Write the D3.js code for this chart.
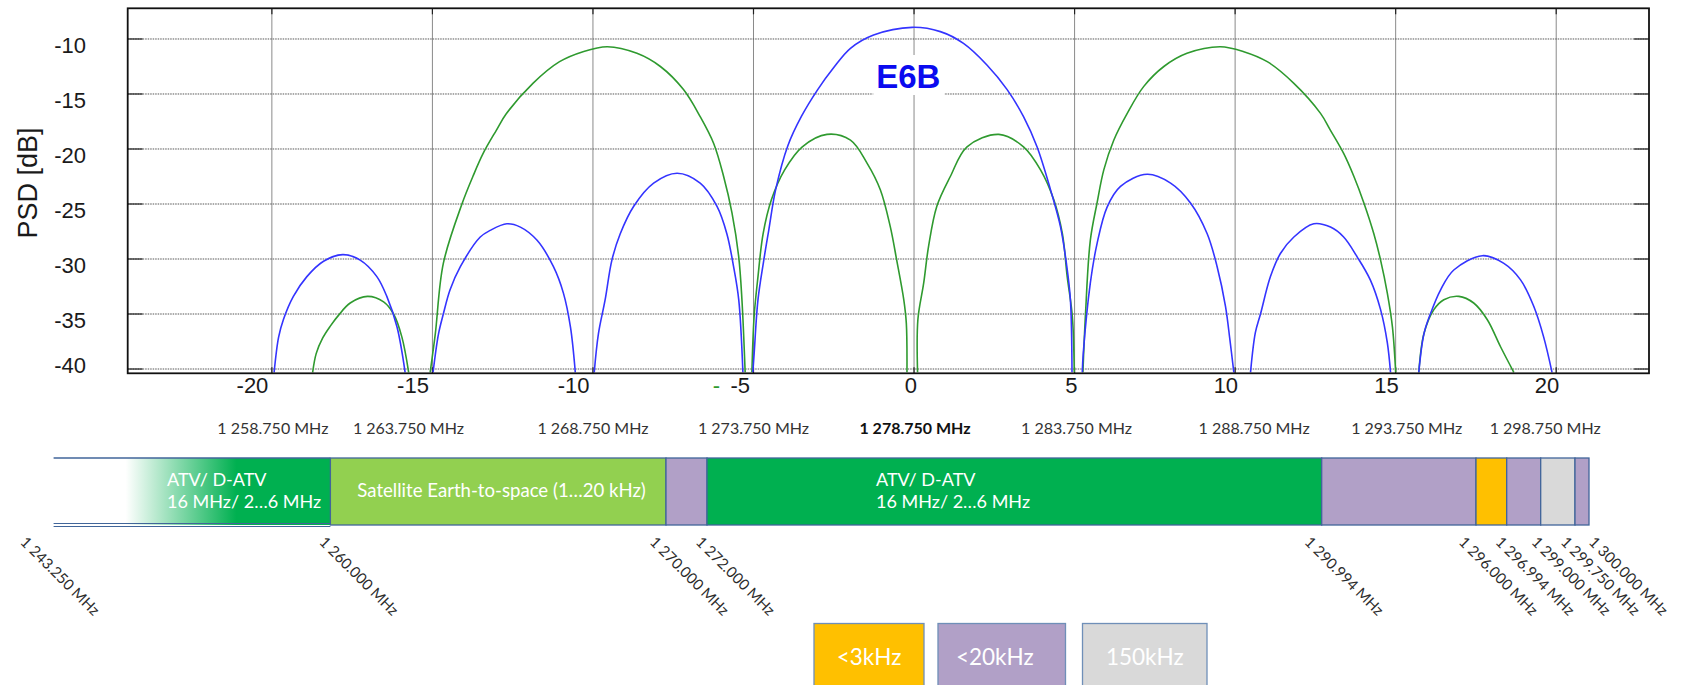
<!DOCTYPE html>
<html lang="en">
<head>
<meta charset="UTF-8">
<title>E6B PSD and band plan</title>
<script src="https://d3js.org/d3.v7.min.js"></script>
<style>
  body { margin: 0; background: #fff; }
  svg { display: block; }
  .tick-label { font-family: "Liberation Sans", Arial, sans-serif; font-size: 22px; fill: #1a1a1a; }
  .mhz { font-family: Lato, "Open Sans", sans-serif; fill: #2b2b2b; }
  .band-text { font-family: Lato, "Open Sans", sans-serif; fill: #fff; }
</style>
</head>
<body>
<svg id="chart" width="1682" height="685"></svg>
<script>
// frequency offset from 1278.750 MHz, in MHz
const xTicks = [-20, -15, -10, -5, 0, 5, 10, 15, 20];
const yTicks = [-10, -15, -20, -25, -30, -35, -40];

// E6B spectrum (blue), one array per lobe: [offset, dB]
const e6bLobes = [
  [[-19.93,-40.3],[-19.79,-37.1],[-19.64,-35.5],[-19.33,-33.4],[-18.91,-31.6],[-18.39,-30.2],[-17.79,-29.6],[-17.25,-30.1],[-16.73,-31.6],[-16.42,-33.4],[-16.1,-36.2],[-15.85,-40.3]],
  [[-14.98,-40.3],[-14.81,-36.8],[-14.66,-35],[-14.45,-32.8],[-14.13,-30.7],[-13.51,-28],[-13.2,-27.4],[-12.68,-26.8],[-12.26,-27.1],[-11.74,-28.3],[-11.23,-30.7],[-10.92,-33.1],[-10.7,-36.2],[-10.55,-40.3]],
  [[-9.96,-40.3],[-9.83,-36.8],[-9.62,-33.7],[-9.41,-30.1],[-9.15,-27.7],[-8.73,-25.2],[-8.11,-23.1],[-7.38,-22.2],[-6.66,-23.1],[-6.14,-25.2],[-5.83,-27.7],[-5.62,-30.7],[-5.46,-33.7],[-5.33,-40.3]],
  [[-5.02,-40.3],[-4.98,-38.6],[-4.86,-33.7],[-4.69,-30.3],[-4.52,-27.3],[-4.31,-23.7],[-3.93,-19.7],[-3.5,-17.0],[-3.0,-14.6],[-2.5,-12.6],[-1.98,-10.85],[-1.26,-9.64],[-0.06,-8.94],[0.82,-9.33],[1.54,-10.4],[2.27,-12.36],[2.9,-14.6],[3.41,-17.06],[3.83,-19.8],[4.25,-23.7],[4.56,-27.06],[4.75,-30.5],[4.87,-33.7],[4.92,-40.3]],
  [[5.24,-40.3],[5.27,-38.6],[5.49,-32.2],[5.7,-28.6],[6.01,-25.3],[6.43,-23.4],[7.26,-22.3],[7.99,-23.1],[8.61,-24.9],[9.13,-27.7],[9.44,-30.7],[9.7,-34.3],[9.84,-37.4],[9.96,-40.3]],
  [[10.48,-40.3],[10.63,-36.7],[10.79,-35],[11.1,-31.6],[11.41,-29.5],[11.83,-28],[12.45,-26.8],[12.97,-27.1],[13.38,-28],[13.8,-29.8],[14.21,-31.9],[14.53,-34.6],[14.74,-37.6],[14.84,-40.3]],
  [[15.72,-40.3],[15.88,-36.8],[16.08,-35],[16.4,-32.8],[16.81,-31],[17.7,-29.7],[18.37,-30.4],[18.89,-31.9],[19.3,-34.3],[19.61,-37.1],[19.87,-40.3]]
];

// second spectrum (green)
const otherLobes = [
  [[-18.73,-40.3],[-18.62,-38.6],[-18.42,-37.2],[-18.18,-36.1],[-17.92,-35.1],[-17.56,-34],[-17.02,-33.4],[-16.52,-33.9],[-16.21,-35],[-15.95,-37.1],[-15.74,-40.3]],
  [[-15.07,-40.3],[-14.91,-36.8],[-14.66,-30.4],[-14.08,-25],[-13.74,-22.5],[-13.42,-20.4],[-13.01,-18.3],[-12.7,-16.8],[-11.87,-14.03],[-11.04,-12.06],[-10.31,-11.15],[-9.55,-10.7],[-8.63,-11.3],[-7.9,-12.5],[-7.18,-14.6],[-6.66,-17.06],[-6.24,-19.5],[-5.93,-22.5],[-5.67,-25.8],[-5.46,-29.8],[-5.36,-33.7],[-5.26,-40.3]],
  [[-5.05,-40.3],[-4.98,-35.2],[-4.86,-31.6],[-4.7,-27.7],[-4.44,-24.6],[-4.03,-21.9],[-3.48,-19.8],[-2.71,-18.67],[-1.98,-19.2],[-1.46,-21.3],[-1.05,-23.7],[-0.74,-27.06],[-0.54,-30.1],[-0.32,-33.7],[-0.24,-35.85],[-0.22,-40.3]],
  [[0.11,-40.3],[0.12,-35.5],[0.3,-32.2],[0.45,-28.9],[0.71,-25.2],[1.13,-22.5],[1.65,-19.8],[2.64,-18.67],[3.41,-19.8],[3.94,-21.9],[4.35,-24.6],[4.62,-27.7],[4.77,-31.6],[4.93,-35.2],[4.99,-40.3]],
  [[5.26,-40.3],[5.34,-35],[5.49,-28.3],[5.7,-24.9],[5.91,-21.9],[6.22,-19.2],[6.64,-16.76],[7.15,-14.33],[7.78,-12.5],[8.5,-11.3],[9.54,-10.7],[10.27,-11.15],[11,-12.06],[11.83,-14.03],[12.66,-16.76],[12.97,-18.3],[13.38,-20.4],[13.7,-22.5],[14.01,-24.9],[14.32,-27.7],[14.53,-30.1],[14.74,-33.1],[14.9,-36.2],[15.0,-40.3]],
  [[15.72,-40.3],[15.88,-36.8],[16.19,-34.6],[16.5,-33.7],[16.97,-33.4],[17.43,-34],[17.85,-35.5],[18.27,-38],[18.68,-40.3]]
];

const centreLabels = ["1 258.750 MHz", "1 263.750 MHz", "1 268.750 MHz", "1 273.750 MHz", "1 278.750 MHz",
                      "1 283.750 MHz", "1 288.750 MHz", "1 293.750 MHz", "1 298.750 MHz"];

// band plan
const bandEdges = [1243.25, 1260, 1270, 1272, 1290.994, 1296, 1296.994, 1299, 1299.75, 1300];
const edgeLabels = ["1 243.250 MHz", "1 260.000 MHz", "1 270.000 MHz", "1 272.000 MHz", "1 290.994 MHz",
                    "1 296.000 MHz", "1 296.994 MHz", "1 299.000 MHz", "1 299.750 MHz", "1 300.000 MHz"];
const bandKinds = ["atvFade", "sat", "bw20", "atv", "bw20", "bw3", "bw20", "bw150", "bw20"];
const bandTexts = [["ATV/ D-ATV", "16 MHz/ 2…6 MHz"], ["Satellite Earth-to-space (1…20 kHz)"], [],
                   ["ATV/ D-ATV", "16 MHz/ 2…6 MHz"], [], [], [], [], []];

const legendLabels = ["<3kHz", "<20kHz", "150kHz"];
const legendKinds = ["bw3", "bw20", "bw150"];

const colors = { atv: "#00b050", atvFade: "#00b050", sat: "#92d050", bw20: "#b1a0c7", bw3: "#ffc000", bw150: "#d9d9d9" };

const svg = d3.select("#chart");
const plotL = 127.7, plotR = 1649, plotT = 8.3, plotB = 373.3;

const x = d3.scaleLinear().domain([-24.49, 22.89]).range([plotL, plotR]);
const y = d3.scaleLinear().domain([-40.39, -7.21]).range([plotB, plotT]);

// grid
svg.append("g").selectAll("line").data(xTicks).join("line")
  .attr("x1", d => x(d)).attr("x2", d => x(d)).attr("y1", plotT).attr("y2", plotB)
  .attr("stroke", "#8a8a8a").attr("stroke-width", 1);
svg.append("g").selectAll("line").data(yTicks).join("line")
  .attr("x1", plotL).attr("x2", plotR).attr("y1", d => y(d)).attr("y2", d => y(d))
  .attr("stroke", "#555").attr("stroke-width", 1).attr("stroke-dasharray", "1.5,1");

// small inward ticks
const tk = svg.append("g").attr("stroke", "#222").attr("stroke-width", 1.2);
yTicks.forEach(d => {
  tk.append("line").attr("x1", plotL).attr("x2", plotL + 15).attr("y1", y(d)).attr("y2", y(d));
  tk.append("line").attr("x1", plotR - 15).attr("x2", plotR).attr("y1", y(d)).attr("y2", y(d));
});
xTicks.forEach(d => {
  tk.append("line").attr("x1", x(d)).attr("x2", x(d)).attr("y1", plotT).attr("y2", plotT + 6);
  tk.append("line").attr("x1", x(d)).attr("x2", x(d)).attr("y1", plotB - 6).attr("y2", plotB);
});

// E6B label with white backing
svg.append("rect").attr("x", x(-1.27)).attr("y", 55).attr("width", 71).attr("height", 40).attr("fill", "#fff");
svg.append("text").attr("x", x(-0.18)).attr("y", 88).attr("text-anchor", "middle")
  .style("font-family", "'Liberation Sans', Arial, sans-serif").style("font-weight", "bold")
  .style("font-size", "33px").attr("fill", "#0a0aef").text("E6B");

// curves
svg.append("clipPath").attr("id", "plot-clip").append("rect")
  .attr("x", plotL).attr("y", plotT).attr("width", plotR - plotL).attr("height", plotB - plotT);
const line = d3.line().x(d => x(d[0])).y(d => y(d[1])).curve(d3.curveCatmullRom.alpha(0.5));
const curves = svg.append("g").attr("clip-path", "url(#plot-clip)").attr("fill", "none");
curves.selectAll("path.g").data(otherLobes).join("path").attr("class", "g")
  .attr("d", line).attr("stroke", "#2f9a2f").attr("stroke-width", 1.6);
curves.selectAll("path.b").data(e6bLobes).join("path").attr("class", "b")
  .attr("d", line).attr("stroke", "#3434ff").attr("stroke-width", 1.6);

// frame
svg.append("rect").attr("x", plotL).attr("y", plotT).attr("width", plotR - plotL).attr("height", plotB - plotT)
  .attr("fill", "none").attr("stroke", "#111").attr("stroke-width", 1.8);

// tick labels
svg.append("g").selectAll("text").data(yTicks).join("text").attr("class", "tick-label")
  .attr("x", 86).attr("y", d => y(d) + (d === -40 ? 4 : 14)).attr("text-anchor", "end").text(d => d);
svg.append("g").selectAll("text").data(xTicks).join("text").attr("class", "tick-label")
  .attr("x", d => x(d) + (d < 0 ? -3.5 : 3)).attr("y", 393).attr("text-anchor", "end").text(d => d);
svg.append("text").attr("class", "tick-label").attr("x", x(-5) - 37).attr("y", 393)
  .attr("text-anchor", "middle").style("fill", "#2f9a2f").text("-");
svg.append("text").attr("class", "tick-label").style("font-size", "27px")
  .attr("transform", "translate(37,183) rotate(-90)").attr("text-anchor", "middle").text("PSD [dB]");

// centre-frequency row
const rowNudge = [1, -24, 0, 0, 1, 2, 19, 11, -11];
svg.append("g").selectAll("text").data(centreLabels).join("text").attr("class", "mhz")
  .attr("x", (d, i) => x(xTicks[i]) + rowNudge[i]).attr("y", 434).attr("text-anchor", "middle")
  .style("font-size", "16px").style("font-weight", (d, i) => xTicks[i] === 0 ? "bold" : "normal")
  .style("fill", (d, i) => xTicks[i] === 0 ? "#111" : "#333").text(d => d);

// band plan (schematic, piecewise scale)
const band = d3.scaleLinear().domain(bandEdges)
  .range([53.6, 330.4, 666, 707, 1321.7, 1476, 1506.7, 1540.7, 1575, 1589]);
const bTop = 458, bBot = 525;
const defs = svg.append("defs");
const grad = defs.append("linearGradient").attr("id", "fade");
grad.append("stop").attr("offset", "0.26").attr("stop-color", "#00b050").attr("stop-opacity", 0);
grad.append("stop").attr("offset", "0.66").attr("stop-color", "#00b050").attr("stop-opacity", 1);

const segs = bandKinds.map((k, i) => ({ kind: k, f0: bandEdges[i], f1: bandEdges[i + 1], text: bandTexts[i] }));
svg.append("g").selectAll("rect").data(segs).join("rect")
  .attr("x", d => band(d.f0)).attr("y", bTop).attr("width", d => band(d.f1) - band(d.f0)).attr("height", bBot - bTop)
  .attr("fill", d => d.kind === "atvFade" ? "url(#fade)" : colors[d.kind])
  .attr("stroke", d => d.kind === "atvFade" ? "none" : "#41659a").attr("stroke-width", 1.3);
svg.append("line").attr("x1", band(1243.25)).attr("x2", band(1260)).attr("y1", bTop).attr("y2", bTop)
  .attr("stroke", "#41659a").attr("stroke-width", 1.3);
[bBot - 1.5, bBot + 1.5].forEach(yy => svg.append("line").attr("x1", band(1243.25)).attr("x2", band(1260))
  .attr("y1", yy).attr("y2", yy).attr("stroke", "#41659a").attr("stroke-width", 1));

const textLayout = { 0: { pos: 0.41, anchor: "start" }, 1: { pos: 0.51, anchor: "middle" }, 3: { pos: 0.275, anchor: "start" } };
segs.forEach((s, i) => {
  if (!s.text.length) return;
  const L = textLayout[i];
  const tx = band(s.f0) + L.pos * (band(s.f1) - band(s.f0));
  const lineY = s.text.length === 1 ? [497] : [486, 508];
  s.text.forEach((t, j) => svg.append("text").attr("class", "band-text")
    .style("font-size", s.text.length === 1 ? "18.6px" : "18px")
    .attr("x", tx).attr("y", lineY[j]).attr("text-anchor", L.anchor).text(t));
});

// rotated edge labels
const edgeNudge = [-20, 2, -3, 2, -4, -4, 2, 4, -1, 13];
svg.append("g").selectAll("text").data(edgeLabels).join("text").attr("class", "mhz")
  .style("font-size", "15px")
  .attr("transform", (d, i) => `translate(${band(bandEdges[i]) - 14 + edgeNudge[i]},${543}) rotate(45)`)
  .text(d => d);

// legend
const lgWidths = [110, 127.5, 124.5];
let lx = 814;
legendLabels.forEach((t, i) => {
  svg.append("rect").attr("x", lx).attr("y", 623.5).attr("width", lgWidths[i]).attr("height", 80)
    .attr("fill", colors[legendKinds[i]]).attr("stroke", "#6f8fb8").attr("stroke-width", 1.3);
  svg.append("text").attr("class", "band-text").style("font-size", "22.5px")
    .attr("x", lx + lgWidths[i] / 2 - (i === 1 ? 7 : 0)).attr("y", 665).attr("text-anchor", "middle").text(t);
  lx += lgWidths[i] + (i === 0 ? 14 : 17);
});
</script>
</body>
</html>
